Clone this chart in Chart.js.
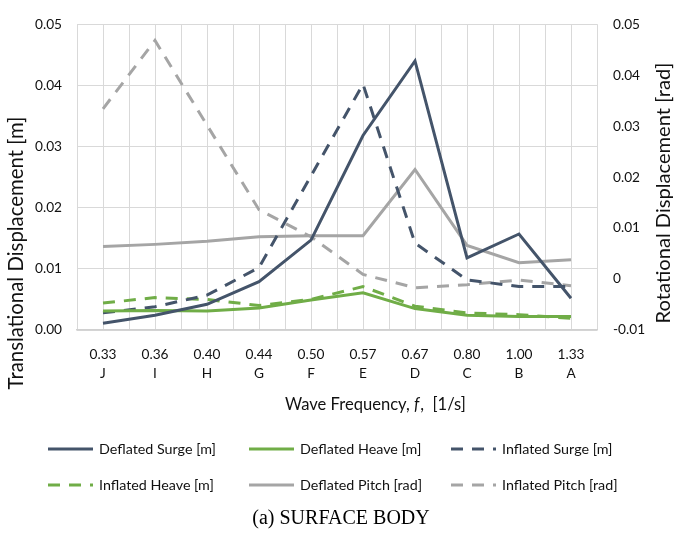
<!DOCTYPE html>
<html><head><meta charset="utf-8">
<script src="https://cdn.jsdelivr.net/npm/chart.js@4.4.0/dist/chart.umd.min.js"></script>
<style>html,body{margin:0;padding:0;background:#fff;}#wrap{position:relative;width:676px;height:535px;}</style>
</head><body><div id="wrap"><canvas id="c" width="676" height="535"></canvas></div>
<script>
// ---- data ----
const frequencies = ['0.33','0.36','0.40','0.44','0.50','0.57','0.67','0.80','1.00','1.33'];
const waveLetters = ['J','I','H','G','F','E','D','C','B','A'];
const deflatedSurge = [0.0011,0.0024,0.0042,0.0079,0.0147,0.0318,0.0440,0.0118,0.0157,0.0052];
const deflatedHeave = [0.0031,0.0032,0.0031,0.0036,0.0049,0.0061,0.0035,0.0024,0.0022,0.0022];
const inflatedSurge = [0.0028,0.0038,0.0057,0.0102,0.0252,0.0402,0.0142,0.0082,0.0071,0.0071];
const inflatedHeave = [0.0044,0.0053,0.0050,0.0040,0.0050,0.0071,0.0039,0.0028,0.0025,0.0019];
const deflatedPitch = [0.0064,0.0068,0.0074,0.0083,0.0085,0.0085,0.0215,0.0066,0.0032,0.0038];
const inflatedPitch = [0.0334,0.0468,0.0302,0.0136,0.0083,0.0009,-0.0017,-0.0011,-0.0002,-0.0013];
const leftAxisRange = [0, 0.05];
const rightAxisRange = [-0.01, 0.05];

const DARK = '#44546A', GREEN = '#70AD47', GRAY = '#A5A5A5';
const FAMILY = 'Lato, "Open Sans", sans-serif';
const TXT = '#111';

const mctx = document.createElement('canvas').getContext('2d');
function fit(text, target, family, style) {
  mctx.font = (style||'') + ' 100px ' + family;
  return 100 * target / mctx.measureText(text).width;
}
const tickSize = fit('0.05', 27, FAMILY);
const legendSize = fit('Deflated Surge [m]', 117, FAMILY);
const DASH = [12, 9];

const pts = arr => arr.map((v, i) => ({x: i, y: v}));
function ds(label, arr, color, dashed, axis) {
  return {label, data: pts(arr), borderColor: color, backgroundColor: color,
    borderWidth: 3, borderDash: dashed ? DASH : [], pointRadius: 0, tension: 0,
    yAxisID: axis, fill: false, borderCapStyle: 'butt', borderJoinStyle: 'miter'};
}
const datasets = [
  ds('Deflated Surge [m]', deflatedSurge, DARK, false, 'y'),
  ds('Deflated Heave [m]', deflatedHeave, GREEN, false, 'y'),
  ds('Inflated Surge [m]', inflatedSurge, DARK, true, 'y'),
  ds('Inflated Heave [m]', inflatedHeave, GREEN, true, 'y'),
  ds('Deflated Pitch [rad]', deflatedPitch, GRAY, false, 'y1'),
  ds('Inflated Pitch [rad]', inflatedPitch, GRAY, true, 'y1')
];

const decor = {
  id: 'decor',
  afterDraw(chart) {
    const ctx = chart.ctx;
    ctx.save();
    ctx.fillStyle = TXT;
    ctx.textBaseline = 'middle';
    // left axis title
    const lt = 'Translational Displacement [m]';
    const ls = fit(lt, 273, FAMILY);
    ctx.font = ls + 'px ' + FAMILY;
    ctx.save(); ctx.translate(16, 253); ctx.rotate(-Math.PI/2);
    ctx.textAlign = 'center'; ctx.fillText(lt, 0, 0); ctx.restore();
    // right axis title
    const rt = 'Rotational Displacement [rad]';
    const rs = fit(rt, 261, FAMILY);
    ctx.font = rs + 'px ' + FAMILY;
    ctx.save(); ctx.translate(664, 193); ctx.rotate(-Math.PI/2);
    ctx.textAlign = 'center'; ctx.fillText(rt, 0, 0); ctx.restore();
    // x axis title with italic f
    const p1 = 'Wave Frequency, ', p2 = 'f', p3 = ',  [1/s]';
    const xs = fit(p1 + 'f' + p3, 180, FAMILY);
    ctx.textAlign = 'left';
    let x = 285;
    ctx.font = xs + 'px ' + FAMILY; ctx.fillText(p1, x, 405); x += ctx.measureText(p1).width;
    ctx.font = 'italic ' + xs + 'px ' + FAMILY; ctx.fillText(p2, x, 405); x += ctx.measureText(p2).width + 1;
    ctx.font = xs + 'px ' + FAMILY; ctx.fillText(p3, x, 405);
    // legend
    const cols = [48, 249, 451], rows = [449, 485];
    chart.data.datasets.forEach((d, i) => {
      const cx = cols[i % 3], cy = rows[Math.floor(i / 3)];
      ctx.strokeStyle = d.borderColor; ctx.lineWidth = 3;
      ctx.setLineDash(d.borderDash); ctx.lineCap = 'butt';
      ctx.beginPath(); ctx.moveTo(cx, cy); ctx.lineTo(cx + 45, cy); ctx.stroke();
      ctx.setLineDash([]);
      ctx.fillStyle = TXT; ctx.font = legendSize + 'px ' + FAMILY;
      ctx.textAlign = 'left'; ctx.fillText(d.label, cx + 51, cy);
    });
    // caption
    ctx.font = '20px "Liberation Serif", "Times New Roman", serif';
    ctx.textAlign = 'center'; ctx.fillStyle = '#000';
    ctx.fillText('(a) SURFACE BODY', 341, 519);
    ctx.restore();
  }
};

new Chart(document.getElementById('c'), {
  type: 'line',
  data: {datasets},
  plugins: [decor],
  options: {
    responsive: false, animation: false, events: [],
    layout: {padding: {top: 12, left: 0, right: 0, bottom: 125}},
    plugins: {legend: {display: false}, tooltip: {enabled: false}, title: {display: false}},
    scales: {
      x: {
        type: 'linear', min: -0.5, max: 9.5,
        grid: {color: '#D9D9D9', drawTicks: false, lineWidth: 1},
        border: {display: true, color: '#D0D0D0', width: 1.5},
        ticks: {
          stepSize: 0.5, autoSkip: false, maxRotation: 0, minRotation: 0, padding: 15,
          color: TXT, font: {family: FAMILY, size: tickSize, lineHeight: 1.4},
          callback: (v) => {
            const i = Math.round(v);
            if (Math.abs(v - i) < 1e-6 && i >= 0 && i < frequencies.length) return [frequencies[i], waveLetters[i]];
            return '';
          }
        },
        afterFit: s => { s.height = 80; }
      },
      y: {
        position: 'left', min: leftAxisRange[0], max: leftAxisRange[1],
        grid: {color: '#D9D9D9', drawTicks: false, lineWidth: 1},
        border: {display: false},
        ticks: {stepSize: 0.01, padding: 15, color: TXT, font: {family: FAMILY, size: tickSize},
          callback: v => v.toFixed(2)},
        afterFit: s => { s.width = 77; }
      },
      y1: {
        position: 'right', min: rightAxisRange[0], max: rightAxisRange[1],
        grid: {display: false, drawTicks: false},
        border: {display: false},
        ticks: {stepSize: 0.01, padding: 16, color: TXT, font: {family: FAMILY, size: tickSize},
          callback: v => Math.abs(v) < 1e-9 ? '0' : v.toFixed(2)},
        afterFit: s => { s.width = 79; }
      }
    }
  }
});
</script></body></html>
